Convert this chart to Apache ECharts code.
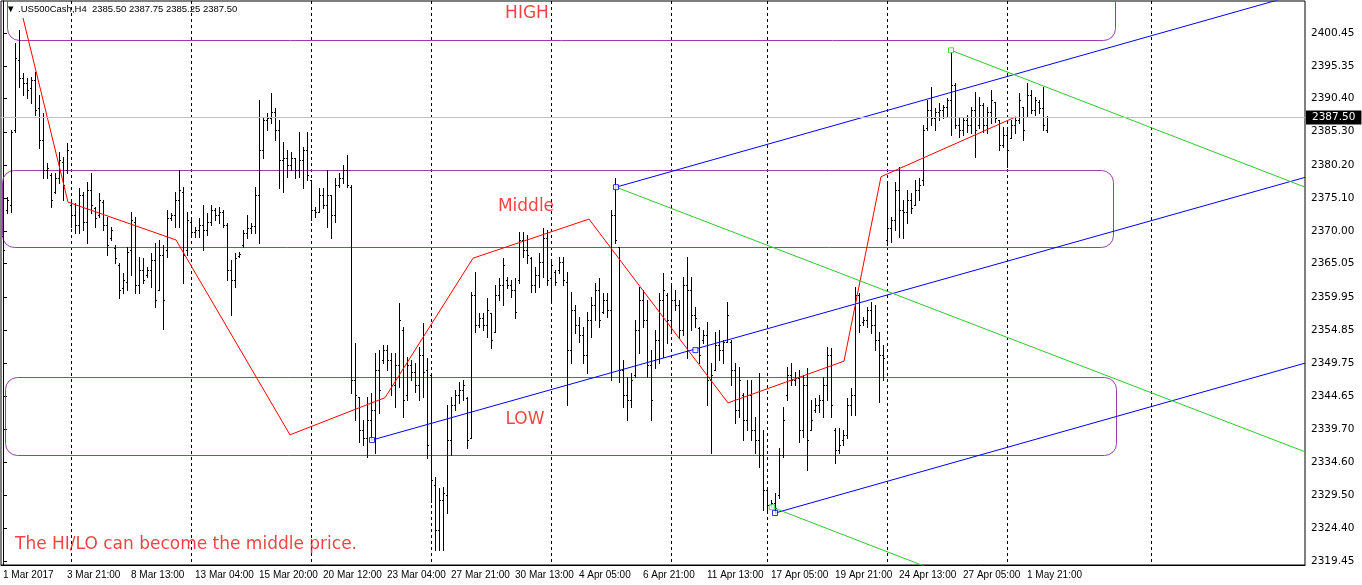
<!DOCTYPE html>
<html>
<head>
<meta charset="utf-8">
<title>US500Cash H4</title>
<script src="https://cdn.jsdelivr.net/npm/echarts@6.0.0/dist/echarts.min.js"></script>
<style>
  html, body { margin: 0; padding: 0; background: #fff; }
  #chart { width: 1362px; height: 585px; }
</style>
</head>
<body>
<div id="chart"></div>
<script>
// bottom time labels, one every 16 bars
const timeLabels = ['1 Mar 2017', '3 Mar 21:00', '8 Mar 13:00', '13 Mar 04:00', '15 Mar 20:00', '20 Mar 12:00',
  '23 Mar 04:00', '27 Mar 21:00', '30 Mar 13:00', '4 Apr 05:00', '6 Apr 21:00', '11 Apr 13:00',
  '17 Apr 05:00', '19 Apr 21:00', '24 Apr 13:00', '27 Apr 05:00', '1 May 21:00']

// right axis labels (as printed by the terminal)
const priceTicks = [2400.45, 2395.35, 2390.40, 2385.30, 2380.20, 2375.10, 2370.00, 2365.05, 2359.95,
  2354.85, 2349.75, 2344.65, 2339.70, 2334.60, 2329.50, 2324.40, 2319.45]

// bar index of each week start (dotted separators)
const weekStarts = [17, 47, 77, 107, 137, 167, 191, 221, 251, 287]

// H4 bars: [open, high, low, close]
const ohlc = [
  [2369.3, 2369.8, 2366.1, 2367.2], [2373.3, 2375.3, 2372.8, 2374.8], [2374.1, 2385.6, 2373.0, 2385.3], [2385.6, 2398.9, 2385.3, 2396.6],
  [2396.3, 2400.9, 2392.2, 2393.5], [2393.5, 2394.3, 2390.9, 2392.8], [2392.8, 2393.5, 2390.5, 2391.7], [2392.0, 2393.7, 2389.7, 2393.2],
  [2393.2, 2394.5, 2387.9, 2388.6], [2388.9, 2390.9, 2382.8, 2384.0], [2384.0, 2388.2, 2378.2, 2379.4], [2379.4, 2380.5, 2378.2, 2379.7],
  [2378.7, 2379.0, 2373.8, 2374.8], [2376.1, 2379.0, 2375.9, 2378.2], [2378.2, 2382.2, 2377.4, 2381.0], [2380.7, 2381.4, 2374.8, 2377.1],
  [2379.4, 2383.6, 2379.0, 2382.5], [2374.1, 2374.8, 2370.7, 2372.5], [2372.5, 2374.4, 2369.8, 2371.0], [2371.0, 2376.7, 2369.8, 2375.6],
  [2375.6, 2376.1, 2370.2, 2371.5], [2371.5, 2377.6, 2368.2, 2376.4], [2376.4, 2379.0, 2372.8, 2374.1], [2373.6, 2373.8, 2370.7, 2372.1],
  [2372.5, 2375.9, 2372.2, 2374.8], [2374.5, 2374.8, 2370.2, 2371.0], [2371.0, 2372.2, 2366.4, 2367.9], [2369.0, 2370.7, 2368.7, 2370.2],
  [2367.5, 2367.9, 2365.2, 2365.9], [2364.9, 2365.2, 2359.8, 2361.0], [2361.3, 2363.6, 2360.6, 2362.6], [2362.2, 2367.6, 2361.0, 2366.9],
  [2367.2, 2373.0, 2363.3, 2371.8], [2371.5, 2372.2, 2360.6, 2361.8], [2361.8, 2366.1, 2360.6, 2364.1], [2364.1, 2365.9, 2362.1, 2362.6],
  [2363.3, 2364.5, 2363.0, 2364.1], [2364.1, 2366.7, 2361.5, 2365.6], [2365.6, 2368.2, 2358.4, 2359.5], [2361.0, 2368.7, 2361.0, 2366.4],
  [2366.4, 2367.9, 2355.0, 2359.5], [2367.2, 2373.3, 2366.1, 2372.1], [2372.1, 2372.8, 2371.8, 2372.5], [2372.5, 2376.1, 2370.7, 2374.8],
  [2374.8, 2379.4, 2370.7, 2376.4], [2376.1, 2376.8, 2362.1, 2366.4], [2367.2, 2373.0, 2366.4, 2371.8], [2371.5, 2371.8, 2369.5, 2369.9],
  [2369.9, 2370.7, 2369.2, 2370.2], [2370.2, 2372.1, 2369.2, 2371.0], [2371.0, 2374.1, 2367.2, 2370.2], [2370.2, 2372.8, 2369.5, 2371.5],
  [2371.5, 2374.1, 2371.0, 2373.3], [2373.3, 2373.6, 2371.8, 2372.5], [2372.5, 2373.8, 2371.3, 2373.0], [2373.0, 2373.3, 2370.7, 2371.0],
  [2371.0, 2371.3, 2362.6, 2364.1], [2364.1, 2365.6, 2357.2, 2362.6], [2362.6, 2366.7, 2361.5, 2365.9], [2366.2, 2366.9, 2366.1, 2366.5],
  [2367.9, 2370.2, 2367.6, 2369.8], [2369.8, 2372.5, 2369.0, 2370.5], [2370.5, 2371.3, 2369.8, 2370.8], [2370.8, 2376.8, 2369.8, 2375.6],
  [2375.6, 2390.2, 2368.2, 2382.5], [2382.5, 2387.4, 2381.3, 2387.1], [2387.1, 2388.2, 2385.6, 2387.4], [2387.4, 2391.2, 2386.6, 2388.3],
  [2388.3, 2388.9, 2384.0, 2385.6], [2385.6, 2387.1, 2376.7, 2381.0], [2381.0, 2383.7, 2376.1, 2381.3], [2381.3, 2382.5, 2378.4, 2380.2],
  [2380.2, 2382.2, 2379.4, 2381.3], [2381.3, 2381.3, 2378.2, 2379.4], [2379.4, 2385.3, 2378.4, 2381.0], [2381.0, 2383.0, 2376.7, 2382.5],
  [2382.5, 2385.3, 2377.9, 2378.7], [2377.9, 2377.9, 2371.8, 2373.3], [2373.3, 2373.8, 2372.2, 2373.0], [2373.0, 2376.7, 2373.0, 2375.6],
  [2375.6, 2376.7, 2373.6, 2374.1], [2374.1, 2379.4, 2370.7, 2375.6], [2375.6, 2375.6, 2369.0, 2372.5], [2372.5, 2378.2, 2371.5, 2377.1],
  [2377.1, 2379.0, 2376.8, 2378.2], [2378.2, 2380.2, 2377.4, 2379.4], [2379.4, 2381.7, 2376.8, 2377.1], [2376.8, 2377.1, 2345.2, 2347.2],
  [2347.2, 2352.9, 2341.1, 2344.9], [2344.6, 2344.6, 2337.7, 2339.5], [2339.5, 2341.1, 2337.2, 2338.3], [2338.3, 2344.6, 2335.4, 2341.1],
  [2341.1, 2345.2, 2338.0, 2342.6], [2342.6, 2351.4, 2336.0, 2348.8], [2348.8, 2351.8, 2342.1, 2345.7], [2350.3, 2352.6, 2349.8, 2351.8],
  [2351.8, 2352.6, 2348.8, 2350.3], [2350.3, 2351.4, 2344.9, 2346.5], [2346.5, 2351.4, 2343.1, 2349.5], [2349.5, 2359.0, 2346.1, 2356.4],
  [2354.9, 2355.3, 2341.5, 2344.1], [2344.9, 2350.7, 2344.1, 2349.5], [2349.5, 2350.3, 2347.2, 2348.4], [2348.4, 2349.8, 2345.4, 2346.5],
  [2346.5, 2352.3, 2344.1, 2351.0], [2351.0, 2356.0, 2344.6, 2348.4], [2348.8, 2350.6, 2335.3, 2337.2], [2348.0, 2348.3, 2328.5, 2331.9],
  [2331.1, 2332.3, 2321.1, 2324.2], [2324.2, 2330.6, 2321.1, 2328.8], [2328.8, 2330.8, 2321.1, 2329.9], [2329.6, 2343.4, 2326.8, 2338.0],
  [2338.0, 2344.6, 2335.7, 2343.4], [2343.4, 2345.7, 2342.6, 2344.9], [2344.9, 2346.9, 2343.7, 2345.7], [2345.7, 2347.2, 2344.1, 2346.5],
  [2344.4, 2344.6, 2336.8, 2338.0], [2338.3, 2360.7, 2338.3, 2360.2], [2360.2, 2363.8, 2354.6, 2355.6], [2355.6, 2357.5, 2355.3, 2356.7],
  [2356.7, 2357.5, 2354.9, 2355.6], [2355.6, 2359.8, 2353.8, 2357.9], [2357.5, 2357.5, 2352.1, 2353.4], [2354.6, 2361.8, 2354.6, 2360.2],
  [2360.2, 2362.9, 2359.5, 2361.8], [2361.8, 2365.9, 2358.7, 2364.9], [2362.6, 2363.0, 2361.3, 2361.8], [2361.8, 2362.6, 2359.9, 2361.0],
  [2361.0, 2362.9, 2356.7, 2357.6], [2362.6, 2369.9, 2362.1, 2368.7], [2368.7, 2369.9, 2366.1, 2367.2], [2367.2, 2369.5, 2365.2, 2366.4],
  [2365.9, 2366.1, 2360.7, 2361.8], [2361.8, 2364.5, 2360.7, 2363.3], [2363.3, 2366.7, 2361.5, 2365.3], [2365.3, 2370.5, 2363.0, 2369.0],
  [2369.0, 2370.2, 2361.8, 2362.6], [2362.9, 2365.6, 2359.5, 2364.9], [2363.8, 2364.1, 2361.8, 2362.2], [2364.1, 2366.1, 2363.6, 2365.3],
  [2365.3, 2366.1, 2361.8, 2362.6], [2362.2, 2363.8, 2343.4, 2351.8], [2351.8, 2360.7, 2349.8, 2357.9], [2357.9, 2358.7, 2354.4, 2355.6],
  [2355.6, 2356.9, 2353.0, 2354.1], [2354.1, 2355.3, 2349.8, 2351.0], [2351.0, 2357.6, 2348.3, 2356.4], [2356.4, 2359.9, 2353.8, 2358.7],
  [2358.7, 2362.1, 2356.4, 2361.0], [2361.0, 2362.9, 2355.3, 2356.4], [2357.6, 2360.6, 2357.5, 2359.5], [2359.5, 2360.6, 2356.9, 2357.9],
  [2357.9, 2373.3, 2347.2, 2372.5], [2372.5, 2378.2, 2368.2, 2368.7], [2367.6, 2367.6, 2346.9, 2348.8], [2348.8, 2350.3, 2343.1, 2344.9],
  [2344.9, 2347.7, 2341.1, 2344.1], [2344.1, 2348.3, 2343.1, 2347.2], [2348.0, 2356.4, 2347.7, 2354.9], [2354.9, 2361.5, 2351.4, 2359.5],
  [2359.5, 2361.0, 2355.3, 2356.4], [2356.4, 2359.5, 2347.7, 2349.5], [2349.5, 2351.8, 2341.1, 2344.1], [2350.3, 2354.9, 2349.1, 2353.4],
  [2353.4, 2360.6, 2349.8, 2359.5], [2359.5, 2363.6, 2350.7, 2361.0], [2360.2, 2360.6, 2352.9, 2356.4], [2356.4, 2362.1, 2354.9, 2359.5],
  [2359.5, 2361.0, 2357.9, 2358.7], [2358.7, 2359.5, 2353.7, 2354.9], [2354.9, 2363.0, 2354.1, 2361.8], [2361.8, 2366.1, 2350.6, 2361.0],
  [2361.0, 2363.0, 2354.9, 2357.2], [2357.2, 2358.4, 2355.3, 2356.7], [2355.2, 2355.3, 2349.8, 2351.0], [2353.4, 2354.9, 2352.9, 2354.1],
  [2354.1, 2356.1, 2343.4, 2347.2], [2347.2, 2349.8, 2336.0, 2348.0], [2348.8, 2354.6, 2348.8, 2352.6], [2352.6, 2354.9, 2350.3, 2351.8],
  [2351.8, 2353.3, 2349.8, 2353.0], [2353.0, 2359.2, 2353.0, 2357.2], [2353.0, 2353.3, 2346.4, 2348.8], [2348.8, 2349.8, 2340.6, 2342.6],
  [2342.6, 2349.2, 2341.5, 2347.2], [2344.9, 2345.2, 2338.0, 2341.1], [2341.1, 2347.2, 2339.5, 2344.9], [2344.9, 2347.2, 2338.0, 2339.5],
  [2339.5, 2341.5, 2336.0, 2338.0], [2338.0, 2348.3, 2333.9, 2335.7], [2335.7, 2339.5, 2327.3, 2330.3], [2330.3, 2330.8, 2327.0, 2328.0],
  [2328.0, 2328.8, 2327.7, 2328.3], [2328.3, 2329.9, 2326.8, 2327.6], [2329.6, 2336.8, 2329.1, 2335.7], [2335.7, 2343.1, 2335.4, 2341.1],
  [2344.9, 2349.2, 2344.1, 2348.0], [2348.0, 2349.8, 2346.4, 2347.2], [2347.2, 2348.4, 2346.4, 2347.5], [2347.5, 2348.8, 2337.7, 2339.5],
  [2339.5, 2348.0, 2338.5, 2346.5], [2346.5, 2349.1, 2333.4, 2338.0], [2339.5, 2344.1, 2339.5, 2341.1], [2342.6, 2344.4, 2342.3, 2343.4],
  [2343.4, 2344.9, 2342.3, 2344.1], [2344.1, 2347.7, 2341.5, 2346.5], [2346.5, 2352.3, 2344.1, 2351.0], [2351.0, 2352.1, 2341.5, 2343.4],
  [2339.5, 2339.9, 2334.5, 2336.5], [2336.5, 2339.9, 2336.0, 2337.2], [2338.0, 2339.5, 2337.2, 2338.8], [2338.8, 2344.4, 2338.3, 2343.4],
  [2343.4, 2346.0, 2341.8, 2344.9], [2344.9, 2361.5, 2341.8, 2360.2], [2360.2, 2360.6, 2354.6, 2355.6], [2356.1, 2356.9, 2355.6, 2356.4],
  [2356.4, 2358.4, 2355.3, 2357.9], [2357.9, 2359.2, 2354.4, 2355.6], [2355.6, 2358.7, 2351.8, 2353.4], [2353.4, 2354.6, 2343.8, 2351.0],
  [2351.0, 2352.6, 2347.2, 2350.6], [2368.7, 2377.4, 2367.9, 2370.5], [2370.5, 2372.2, 2368.4, 2371.8], [2371.8, 2377.6, 2370.2, 2376.4],
  [2376.4, 2379.9, 2369.2, 2373.3], [2373.3, 2374.8, 2369.0, 2373.0], [2373.0, 2376.4, 2371.3, 2374.8], [2374.8, 2375.9, 2372.8, 2373.6],
  [2374.1, 2377.9, 2374.1, 2376.4], [2376.4, 2378.2, 2374.8, 2377.1], [2377.9, 2386.3, 2377.1, 2385.6], [2385.9, 2390.2, 2385.6, 2388.6],
  [2388.6, 2392.2, 2386.3, 2387.4], [2387.4, 2388.9, 2385.6, 2388.3], [2388.3, 2389.7, 2387.1, 2388.6], [2388.6, 2389.4, 2387.4, 2389.1],
  [2389.1, 2390.5, 2387.6, 2390.2], [2390.2, 2397.5, 2384.8, 2392.5], [2392.5, 2392.8, 2385.9, 2386.3], [2386.3, 2387.6, 2384.5, 2385.6],
  [2385.6, 2387.6, 2384.8, 2387.1], [2387.1, 2387.9, 2385.3, 2386.3], [2386.3, 2389.1, 2385.1, 2388.6], [2388.6, 2391.4, 2381.4, 2385.6],
  [2386.3, 2390.6, 2385.9, 2389.4], [2389.4, 2389.7, 2385.3, 2386.3], [2386.3, 2389.1, 2385.1, 2388.3], [2388.3, 2391.7, 2386.6, 2390.2],
  [2389.9, 2389.9, 2386.8, 2387.4], [2387.1, 2387.1, 2382.5, 2383.3], [2383.3, 2386.0, 2383.0, 2384.8], [2384.8, 2385.9, 2379.9, 2382.5],
  [2384.3, 2387.1, 2384.3, 2386.3], [2386.3, 2387.6, 2385.1, 2387.1], [2387.1, 2391.2, 2386.6, 2390.2], [2389.1, 2389.1, 2384.0, 2385.6],
  [2387.6, 2392.8, 2387.6, 2390.9], [2390.9, 2391.7, 2388.2, 2388.6], [2388.6, 2390.6, 2387.9, 2390.2], [2389.9, 2390.2, 2388.2, 2388.9],
  [2388.9, 2392.2, 2385.6, 2386.3], [2385.50, 2387.75, 2385.25, 2387.50]
]

const lastPrice = 2387.50

// drawings, in [bar index, price]
const zigzag = [[5.0, 2402.75], [16.25, 2374.5], [43.25, 2368.7], [71.75, 2338.8], [95.5, 2344.5], [117.5, 2365.9],
  [146.5, 2371.9], [181.25, 2343.7], [210.25, 2350.1], [219.5, 2378.4], [253.25, 2387.6]]

const blueLines = [
  [[92.25, 2338.0], [325.5, 2378.3]],
  [[153.25, 2376.8], [325.5, 2406.7]],
  [[193.0, 2326.8], [325.5, 2349.8]]
]
const greenLines = [
  [[237.0, 2397.8], [325.5, 2376.8]],
  [[153.25, 2376.8], [325.5, 2336.2]],
  [[192.2, 2327.7], [325.5, 2296.1]]
]
const blueMarks = [[92.25, 2338.0], [153.25, 2376.8], [173.1, 2351.8], [193.0, 2326.8]]
const greenMarks = [[237.0, 2397.8], [192.2, 2327.7]]

// rounded zones: [from index, to index, low, high]
const zones = [
  [0.9, 278.0, 2399.4, 2412.0],
  [-0.3, 277.5, 2367.6, 2379.4],
  [0.5, 278.25, 2335.7, 2347.7]
]

const noteTexts = ['HIGH', 'Middle', 'LOW', 'The HI/LO can become the middle price.']
const notePoints = [[131.0, 2403.4], [130.75, 2373.75], [130.5, 2341.2], [3.0, 2322.0]]

const FONT = 'Liberation Sans'
const AXIS_FONT = 'DejaVu Sans'
const NOTE_FONT = 'DejaVu Sans'
const PURPLE = '#9b3db0'
const RED = '#ee1414'
const Y_MIN = 2318.83
const Y_MAX = 2405.36
const SLOTS = 326

const categories = []
for (let i = 0; i < SLOTS; i++) {
  const k = i / 16
  categories.push(i % 16 === 0 && k < timeLabels.length ? timeLabels[k] : '')
}

const renderBar = (params, api) => {
  const i = api.value(0)
  const o = api.coord([i, api.value(1)])
  const h = api.coord([i, api.value(2)])
  const l = api.coord([i, api.value(3)])
  const c = api.coord([i, api.value(4)])
  const x = Math.floor(h[0])
  const yH = Math.round(h[1])
  const yL = Math.round(l[1])
  return {
    type: 'group',
    children: [
      { type: 'rect', shape: { x: x, y: yH, width: 1, height: Math.max(1, yL - yH + 1) }, style: { fill: '#000' } },
      { type: 'rect', shape: { x: x - 1, y: Math.round(o[1]), width: 1, height: 1 }, style: { fill: '#000' } },
      { type: 'rect', shape: { x: x + 1, y: Math.round(c[1]), width: 1, height: 1 }, style: { fill: '#000' } }
    ]
  }
}

const renderSeparator = (params, api) => {
  const top = api.coord([api.value(0), Y_MAX])
  const bottom = api.coord([api.value(0), Y_MIN])
  const x = Math.floor(top[0]) + 0.5
  return {
    type: 'line',
    shape: { x1: x, y1: top[1], x2: x, y2: bottom[1] },
    style: { stroke: '#000', lineWidth: 1, lineDash: [3, 3] }
  }
}

const renderZone = (params, api) => {
  const a = api.coord([api.value(0), api.value(3)])
  const b = api.coord([api.value(1), api.value(2)])
  return {
    type: 'rect',
    shape: { x: Math.round(a[0]) + 0.5, y: Math.round(a[1]) + 0.5, width: Math.round(b[0] - a[0]), height: Math.round(b[1] - a[1]), r: 12 },
    style: { fill: 'none', stroke: PURPLE, lineWidth: 1 }
  }
}

const segment = (pts, color) => ({
  type: 'line',
  xAxisIndex: 1,
  data: pts,
  symbol: 'none',
  clip: true,
  silent: true,
  animation: false,
  lineStyle: { color: color, width: 1 },
  z: 4
})

const chart = echarts.init(document.getElementById('chart'))

const option = {
  animation: false,
  backgroundColor: '#fff',
  title: {
    text: '▼ .US500Cash,H4  2385.50 2387.75 2385.25 2387.50',
    left: 6,
    top: 4,
    padding: 0,
    textStyle: { fontFamily: FONT, fontSize: 9.5, fontWeight: 'normal', color: '#000' }
  },
  grid: { left: 1, right: 57, top: 1, bottom: 20, show: true, borderColor: '#000', borderWidth: 1 },
  xAxis: [
    {
      type: 'category',
      data: categories,
      boundaryGap: true,
      axisLine: { lineStyle: { color: '#000' } },
      axisTick: { alignWithLabel: true, inside: true, length: 4, interval: (i) => weekStarts.includes(i), lineStyle: { color: '#000' } },
      axisLabel: { interval: 15, align: 'left', margin: 5, color: '#000', fontFamily: FONT, fontSize: 10 },
      splitLine: { show: false }
    },
    { type: 'value', min: -0.5, max: SLOTS - 0.5, show: false }
  ],
  yAxis: {
    type: 'value',
    position: 'right',
    min: Y_MIN,
    max: Y_MAX,
    axisLine: { show: true, lineStyle: { color: '#000' } },
    axisTick: { show: true, length: 4, customValues: priceTicks, lineStyle: { color: '#000' } },
    axisLabel: { customValues: priceTicks, formatter: (v) => v.toFixed(2), margin: 6, color: '#000', fontFamily: AXIS_FONT, fontSize: 10.5 },
    splitLine: { show: false }
  },
  series: [
    {
      name: 'separators',
      type: 'custom',
      xAxisIndex: 1,
      renderItem: renderSeparator,
      data: weekStarts.map((i) => [i]),
      silent: true,
      z: 1
    },
    {
      name: 'zones',
      type: 'custom',
      xAxisIndex: 1,
      renderItem: renderZone,
      data: zones,
      clip: true,
      silent: true,
      z: 2
    },
    {
      name: 'US500Cash',
      type: 'custom',
      xAxisIndex: 1,
      renderItem: renderBar,
      data: ohlc.map((b, i) => [i, b[0], b[1], b[2], b[3]]),
      clip: true,
      z: 3,
      markLine: {
        silent: true,
        symbol: 'none',
        animation: false,
        lineStyle: { color: '#c0c0c0', width: 1, type: 'solid' },
        label: {
          position: 'end',
          distance: 1,
          formatter: lastPrice.toFixed(2),
          color: '#fff',
          backgroundColor: '#000',
          padding: [2, 6, 1, 6],
          fontFamily: AXIS_FONT,
          fontSize: 10.5
        },
        data: [{ yAxis: lastPrice }]
      }
    },
    segment(zigzag, '#ff0000'),
    ...blueLines.map((l) => segment(l, '#0000ff')),
    ...greenLines.map((l) => segment(l, '#2ec82e')),
    {
      type: 'scatter',
      xAxisIndex: 1,
      data: blueMarks,
      symbol: 'rect',
      symbolSize: 5,
      itemStyle: { color: '#fff', borderColor: '#0000ff', borderWidth: 1 },
      silent: true,
      z: 6
    },
    {
      type: 'scatter',
      xAxisIndex: 1,
      data: greenMarks,
      symbol: 'rect',
      symbolSize: 5,
      itemStyle: { color: '#fff', borderColor: '#2ec82e', borderWidth: 1 },
      silent: true,
      z: 6
    },
    {
      type: 'scatter',
      xAxisIndex: 1,
      symbolSize: 0,
      silent: true,
      z: 7,
      label: { show: true, position: 'inside', color: RED, fontFamily: NOTE_FONT, fontSize: 17 },
      data: notePoints.map((p, k) => ({
        value: p,
        label: { formatter: noteTexts[k], align: k === 3 ? 'left' : 'center' }
      }))
    }
  ]
}

chart.setOption(option)
window.addEventListener('resize', () => chart.resize())
</script>
</body>
</html>
